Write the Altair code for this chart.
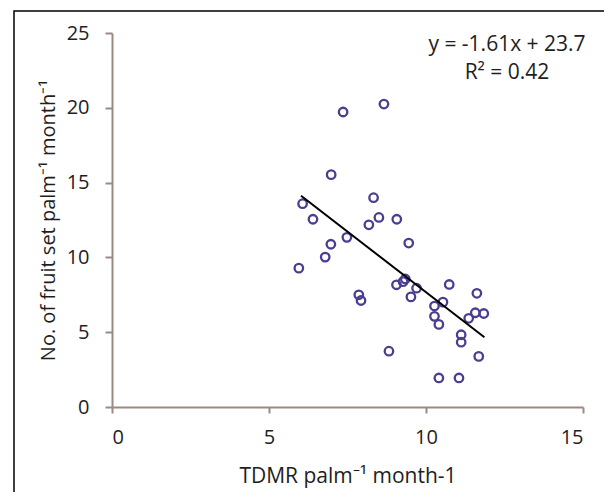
import altair as alt
import pandas as pd

tdmr = [5.95, 6.07, 6.40, 6.79, 6.98, 6.97, 7.36, 7.48, 7.86, 7.93, 8.18, 8.33, 8.50, 8.66,
        8.82, 9.07, 9.06, 9.27, 9.34, 9.45, 9.52, 9.70, 10.27, 10.27, 10.41, 10.41, 10.54,
        10.74, 11.05, 11.12, 11.12, 11.36, 11.57, 11.62, 11.68, 11.84]
fruit_set = [9.28, 13.59, 12.55, 10.02, 15.53, 10.88, 19.72, 11.34, 7.50, 7.12, 12.18, 13.99,
             12.67, 20.25, 3.73, 12.55, 8.17, 8.38, 8.56, 10.96, 7.36, 7.94, 6.75, 6.06,
             5.52, 1.94, 7.01, 8.19, 1.94, 4.83, 4.33, 5.93, 6.30, 7.60, 3.38, 6.25]

fit_x = [6.02, 11.86]
fit_y = [14.12, 4.66]

annot_lines = ["y = -1.61x + 23.7", "R\u00b2 = 0.42"]

x_ticks = [0, 5, 10, 15]
y_ticks = [0, 5, 10, 15, 20, 25]

axis_col = "#9a8a84"
font = "Open Sans"
txt_col = "#1e1e1e"

pts = pd.DataFrame({"x": tdmr, "y": fruit_set})
fit = pd.DataFrame({"x": fit_x, "y": fit_y})

xscale = alt.Scale(domain=[0, 15], nice=False)
yscale = alt.Scale(domain=[0, 25], nice=False)

xaxis = alt.Axis(values=x_ticks, title="TDMR palm\u207b\u00b9 month-1", grid=False,
                 domainColor=axis_col, tickColor=axis_col, domainWidth=2, tickWidth=2,
                 tickSize=6, labelPadding=14, labelFontSize=20, labelFont=font,
                 labelColor=txt_col, titleFont=font, titleFontSize=21,
                 titleFontWeight="normal", titleColor=txt_col, titlePadding=18)
yaxis = alt.Axis(values=y_ticks, title="No. of fruit set palm\u207b\u00b9 month\u207b\u00b9",
                 grid=False, domainColor=axis_col, tickColor=axis_col, domainWidth=2,
                 tickWidth=2, tickSize=7, labelPadding=16, labelFontSize=20, labelFont=font,
                 labelColor=txt_col, titleFont=font, titleFontSize=20,
                 titleFontWeight="normal", titleColor=txt_col, titlePadding=8)

border = alt.Chart(pd.DataFrame({"a": [0]})).mark_rect(
    fill=None, stroke="black", strokeWidth=1.5, clip=False
).encode(x=alt.value(-98), x2=alt.value(497), y=alt.value(-22), y2=alt.value(490))

points = alt.Chart(pts).mark_point(
    shape="circle", filled=False, size=72, strokeWidth=2.3, color="#4b3d8f", opacity=1
).encode(x=alt.X("x:Q", scale=xscale, axis=xaxis), y=alt.Y("y:Q", scale=yscale, axis=yaxis))

line = alt.Chart(fit).mark_line(color="black", strokeWidth=2).encode(
    x=alt.X("x:Q", scale=xscale), y=alt.Y("y:Q", scale=yscale))

texts = []
for t, ypix in zip(annot_lines, [12, 40]):
    texts.append(
        alt.Chart(pd.DataFrame({"t": [t]})).mark_text(
            font=font, fontSize=21, color=txt_col, align="center",
            baseline="middle", clip=False
        ).encode(x=alt.value(395), y=alt.value(ypix), text="t:N")
    )

chart = alt.layer(border, points, line, *texts).properties(
    width=471, height=374,
    padding={"left": 104, "top": 25, "right": 21, "bottom": 85},
    autosize=alt.AutoSizeParams(type="none"),
    background="white",
).configure_view(stroke=None)

chart.save("out.html", embed_options={"renderer": "svg", "actions": False})
